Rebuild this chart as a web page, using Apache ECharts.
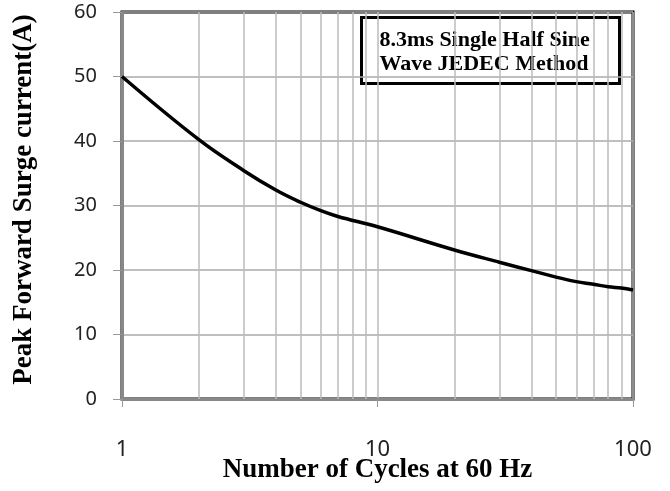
<!DOCTYPE html>
<html>
<head>
<meta charset="utf-8">
<script src="https://cdn.jsdelivr.net/npm/echarts@6/dist/echarts.min.js"></script>
<style>html,body{margin:0;padding:0;background:#fff;}#c{width:670px;height:491px;}</style>
</head>
<body>
<div id="c"></div>
<script>
var cycles = [1, 2, 3, 4, 5, 6, 7, 10, 20, 30, 40, 50, 60, 70, 80, 90, 100];
var current = [50, 40.2, 35.4, 32.4, 30.5, 29.2, 28.3, 26.7, 23.1, 21.2, 19.9, 18.9, 18.2, 17.8, 17.4, 17.2, 16.9];
var minorGrid = [2, 3, 4, 5, 6, 7, 8, 9, 20, 30, 40, 50, 60, 70, 80, 90];
var noteLines = ['8.3ms Single Half Sine', 'Wave JEDEC Method'];
var xTitle = 'Number of Cycles at 60 Hz';
var yTitle = 'Peak Forward Surge current(A)';

var chart = echarts.init(document.getElementById('c'), null, {renderer: 'canvas'});
chart.setOption({
  animation: false,
  backgroundColor: '#fff',
  grid: {left: 122, top: 12, width: 511, height: 387, show: true, borderColor: '#000', borderWidth: 3, backgroundColor: 'transparent', containLabel: false, outerBoundsMode: 'none'},
  xAxis: {
    type: 'log', logBase: 10, min: 1, max: 100,
    name: xTitle, nameLocation: 'middle', nameGap: 58, nameMoveOverlap: false,
    nameTextStyle: {fontFamily: 'Liberation Serif', fontWeight: 'bold', fontSize: 27, color: '#000'},
    axisLine: {show: true, lineStyle: {color: '#888', width: 3}},
    axisTick: {show: true, length: 8, lineStyle: {color: '#999', width: 1}},
    axisLabel: {margin: 40, fontFamily: 'Noto Sans', fontSize: 22, color: '#222'},
    splitLine: {show: true, lineStyle: {color: '#bbb', width: 1.5}},
    minorTick: {show: false},
    minorSplitLine: {show: false}
  },
  yAxis: {
    type: 'value', min: 0, max: 60, interval: 10,
    name: yTitle, nameLocation: 'middle', nameGap: 84, nameRotate: 90, nameMoveOverlap: false,
    nameTextStyle: {fontFamily: 'Liberation Serif', fontWeight: 'bold', fontSize: 27, color: '#000', padding: [0, 0, 0, 12]},
    axisLine: {show: true, lineStyle: {color: '#888', width: 3}},
    axisTick: {show: true, length: 9, lineStyle: {color: '#999', width: 1}},
    axisLabel: {margin: 25, fontFamily: 'Noto Sans', fontSize: 20, color: '#222'},
    splitLine: {show: true, lineStyle: {color: '#aaa', width: 1.5}}
  },
  series: [{
    type: 'line',
    data: cycles.map(function (c, i) { return [c, current[i]]; }),
    smooth: 0.4,
    showSymbol: false,
    lineStyle: {color: '#000', width: 3.5},
    z: 5,
    markLine: {
      silent: true, symbol: 'none', label: {show: false},
      lineStyle: {color: '#bbb', width: 1.5, type: 'solid'},
      z: 1,
      data: minorGrid.map(function (v) { return {xAxis: v}; })
    }
  }],
  graphic: [{
    type: 'group', left: 360, top: 16, z: 100,
    children: [
      {type: 'rect', shape: {x: 0, y: 0, width: 258, height: 66}, style: {fill: '#fff', stroke: '#000', lineWidth: 3}},
      {type: 'text', left: 18, top: 11, style: {text: noteLines.join('\n'), fontFamily: 'Liberation Serif', fontWeight: 'bold', fontSize: 22, lineHeight: 24, fill: '#000'}}
    ]
  }]
});
</script>
</body>
</html>
